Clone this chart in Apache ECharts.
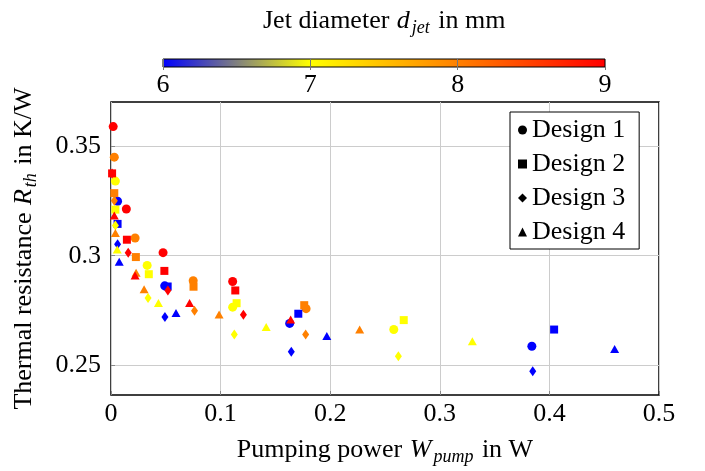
<!DOCTYPE html>
<html>
<head>
<meta charset="utf-8">
<script src="https://cdn.jsdelivr.net/npm/echarts@6/dist/echarts.min.js"></script>
<style>html,body{margin:0;padding:0;background:#fff}#c{width:705px;height:471px}</style>
</head>
<body>
<div id="c"></div>
<script>
// [pumping power W, thermal resistance K/W, jet diameter mm]
const design1 = [[0.002,0.3588,9],[0.003,0.3449,8],[0.004,0.334,7],[0.006,0.3248,6],[0.014,0.3213,9],[0.022,0.3081,8],[0.033,0.2956,7],[0.049,0.2863,6],[0.0475,0.3014,9],[0.075,0.2886,8],[0.111,0.2766,7],[0.163,0.2692,6],[0.111,0.2883,9],[0.178,0.2759,8],[0.258,0.2664,7],[0.384,0.2588,6]];
const design2 = [[0.001,0.3375,9],[0.003,0.3285,8],[0.004,0.321,7],[0.006,0.3145,6],[0.0145,0.3073,9],[0.0227,0.2994,8],[0.0345,0.2916,7],[0.0487,0.2931,9],[0.0517,0.286,6],[0.0753,0.2859,8],[0.1134,0.2842,9],[0.1146,0.2784,7],[0.1709,0.2736,6],[0.1763,0.2775,8],[0.2671,0.2707,7],[0.4043,0.2664,6]];
const design3 = [[0.001,0.3375,9],[0.003,0.325,8],[0.004,0.3138,7],[0.006,0.3052,6],[0.0157,0.3014,9],[0.0338,0.2808,7],[0.0492,0.2721,6],[0.0519,0.2842,9],[0.0762,0.275,8],[0.1208,0.2731,9],[0.1125,0.2642,7],[0.1645,0.2563,6],[0.1776,0.2641,8],[0.2622,0.2542,7],[0.3848,0.2474,6]];
const design4 = [[0.003,0.3183,9],[0.004,0.3104,8],[0.0057,0.3028,7],[0.0075,0.2973,6],[0.0229,0.2923,8],[0.022,0.291,9],[0.0302,0.2847,8],[0.0433,0.2785,7],[0.0593,0.2739,6],[0.0717,0.2785,9],[0.0986,0.2732,8],[0.1416,0.2676,7],[0.1639,0.271,9],[0.1969,0.2635,6],[0.2269,0.2664,8],[0.3297,0.2611,7],[0.4595,0.2575,6]];
const seriesNames = ['Design 1','Design 2','Design 3','Design 4'];
const yTicks = [0.25, 0.3, 0.35];
const colorbarStops = ['#0000ff','#ffff00','#ff8000','#ff0000'];

const FF = '"Liberation Serif", "Times New Roman", serif';
const FS = 26;
const richMath = {
  i: {fontFamily: FF, fontStyle: 'italic', fontSize: FS, color: '#000', padding: [0, 2, 0, 1]},
  s: {fontFamily: FF, fontStyle: 'italic', fontSize: 18, color: '#000', verticalAlign: 'bottom', lineHeight: 18, padding: [0, 2, 0, 0]}
};
const chart = echarts.init(document.getElementById('c'), null, {renderer: 'canvas'});
const symbols = ['circle','rect','diamond','triangle'];
const sizes = [9, 8, [7,10], [9,8]];
const datasets = [design1, design2, design3, design4];

chart.setOption({
  animation: false,
  backgroundColor: '#fff',
  title: {
    text: 'Jet diameter {i|d}{s|jet} in mm',
    left: 258, top: 0,
    textStyle: {fontFamily: FF, fontSize: FS, fontWeight: 'normal', color: '#000', lineHeight: 32, rich: richMath}
  },
  grid: [
    {left: 108, right: 46, top: 102, bottom: 73, show: true, borderColor: '#000', borderWidth: 1.5, backgroundColor: 'transparent', containLabel: false},
    {left: 163, right: 100, top: 59, height: 8, show: true, borderColor: '#000', borderWidth: 1,
     backgroundColor: {type: 'linear', x: 0, y: 0, x2: 1, y2: 0, colorStops: colorbarStops.map((c, i) => ({offset: i / (colorbarStops.length - 1), color: c}))}}
  ],
  xAxis: [
    {type: 'value', gridIndex: 0, min: 0, max: 0.5, interval: 0.1,
     name: 'Pumping power {i|W}{s|pump} in W', nameLocation: 'middle', nameGap: 39,
     nameTextStyle: {fontFamily: FF, fontSize: FS, color: '#000', lineHeight: 32, rich: richMath},
     axisLine: {show: false}, axisTick: {show: true, inside: true, length: 4, lineStyle: {color: '#888'}},
     axisLabel: {fontFamily: FF, fontSize: FS, color: '#000', margin: 6},
     splitLine: {show: true, lineStyle: {color: '#cccccc', width: 1}}},
    {type: 'value', gridIndex: 1, min: 6, max: 9, interval: 1,
     axisLine: {show: false}, axisTick: {show: true, length: 3, lineStyle: {color: '#777'}},
     axisLabel: {fontFamily: FF, fontSize: FS, color: '#000', margin: 5},
     splitLine: {show: true, lineStyle: {color: '#777', width: 1}}}
  ],
  yAxis: [
    {type: 'value', gridIndex: 0, min: 0.2366, max: 0.37,
     name: 'Thermal resistance {i|R}{s|th} in K/W', nameLocation: 'middle', nameGap: 71, nameRotate: 90,
     nameTextStyle: {fontFamily: FF, fontSize: FS, color: '#000', lineHeight: 32, rich: richMath},
     axisLine: {show: false},
     axisTick: {show: true, inside: true, length: 4, customValues: yTicks, lineStyle: {color: '#888'}},
     axisLabel: {fontFamily: FF, fontSize: FS, color: '#000', margin: 10, customValues: yTicks},
     splitLine: {show: true, lineStyle: {color: '#cccccc', width: 1}}},
    {type: 'value', gridIndex: 1, min: 0, max: 1, show: false, splitLine: {show: false}}
  ],
  visualMap: {
    type: 'continuous', show: false, min: 6, max: 9, dimension: 2, seriesIndex: [0,1,2,3],
    inRange: {color: colorbarStops}
  },
  legend: {
    left: 510, top: 112, orient: 'vertical',
    backgroundColor: '#fff', borderColor: '#000', borderWidth: 1, borderRadius: 0,
    padding: [5, 14, 4, 8], itemGap: 8, itemWidth: 9, itemHeight: 9,
    textStyle: {fontFamily: FF, fontSize: FS, color: '#000'},
    data: seriesNames.map((n, i) => ({name: n, icon: symbols[i], itemStyle: {color: '#000'}}))
  },
  series: datasets.map((d, i) => ({
    name: seriesNames[i], type: 'scatter', xAxisIndex: 0, yAxisIndex: 0,
    symbol: symbols[i], symbolSize: sizes[i], data: d,
    itemStyle: {color: '#000', opacity: 1}, z: 2 + i
  }))
});
</script>
</body>
</html>
